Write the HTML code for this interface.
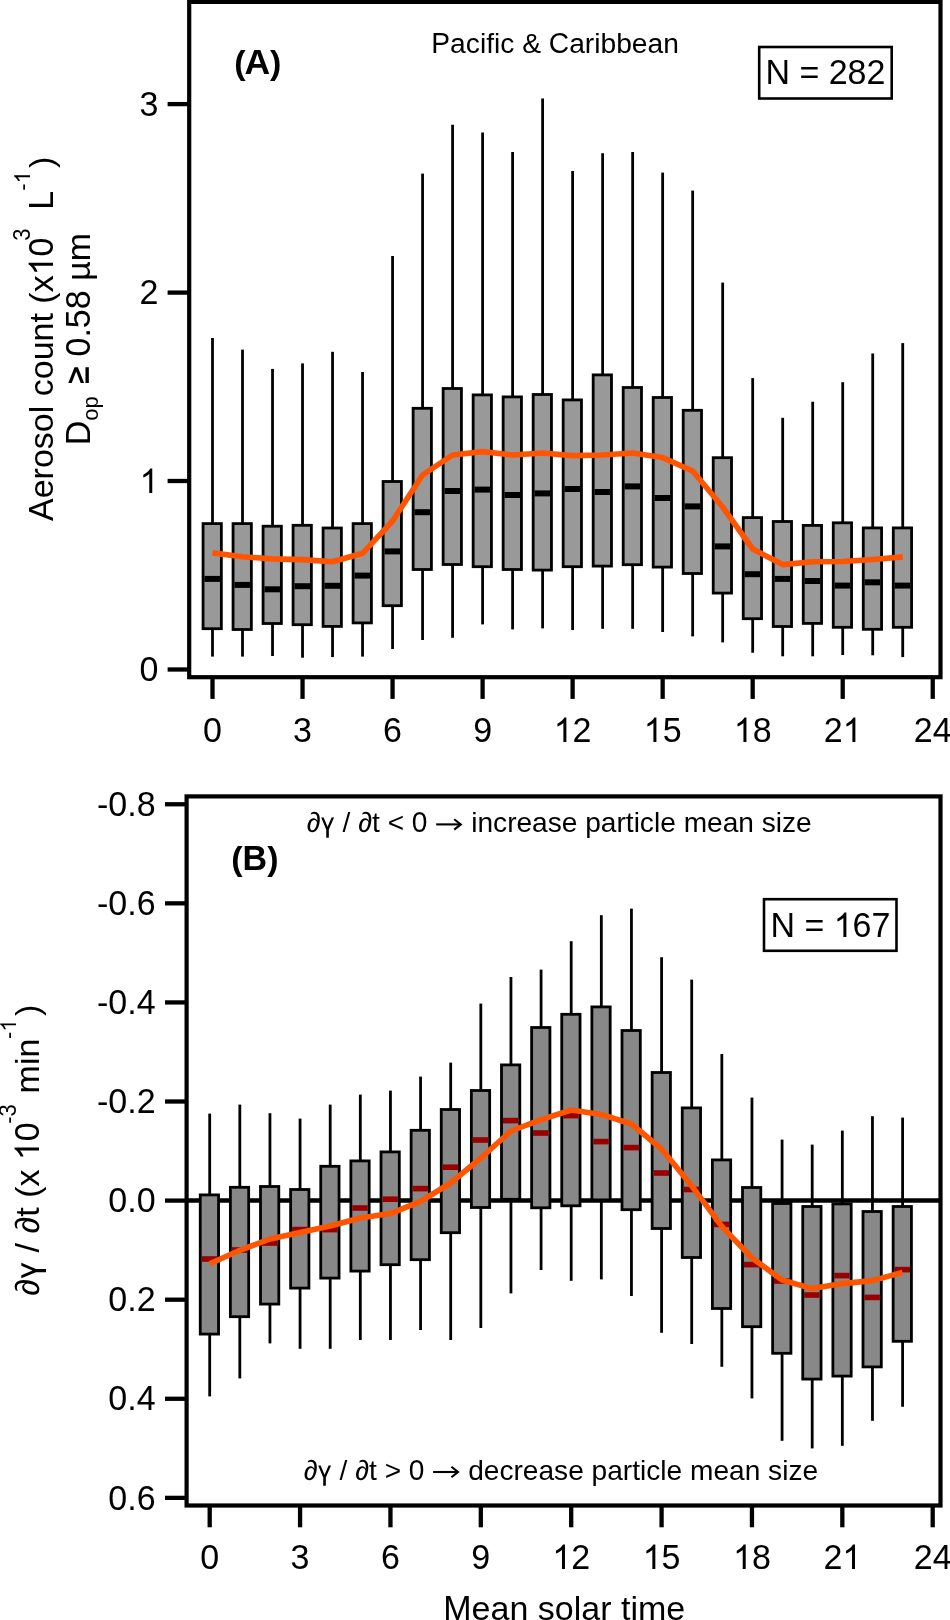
<!DOCTYPE html>
<html><head><meta charset="utf-8"><title>Aerosol diurnal box plots</title>
<style>html,body{margin:0;padding:0;background:#fff;}svg{display:block;}</style>
</head><body>
<svg style="will-change:transform" width="950" height="1620" viewBox="0 0 950 1620" font-family="'Liberation Sans', sans-serif">
<rect width="950" height="1620" fill="#fff"/>
<line x1="167.6" y1="669.5" x2="189.2" y2="669.5" stroke="#000" stroke-width="4.3"/>
<text transform="translate(139.59 681.2) scale(1 1.05)" font-size="34">0</text>
<line x1="167.6" y1="481" x2="189.2" y2="481" stroke="#000" stroke-width="4.3"/>
<path d="M763 0L583 0L583 1147Q518 1085 413 1023Q308 961 223 930L223 1104Q374 1175 487 1276Q600 1377 647 1472L763 1472Z" transform="translate(139.59 493) scale(0.01660 -0.01660)"/>
<line x1="167.6" y1="292.6" x2="189.2" y2="292.6" stroke="#000" stroke-width="4.3"/>
<text transform="translate(139.59 304.3) scale(1 1.05)" font-size="34">2</text>
<line x1="167.6" y1="104.1" x2="189.2" y2="104.1" stroke="#000" stroke-width="4.3"/>
<text transform="translate(139.59 115.8) scale(1 1.05)" font-size="34">3</text>
<line x1="212.5" y1="677.2" x2="212.5" y2="698.9" stroke="#000" stroke-width="4.3"/>
<text transform="translate(203.05 741.5) scale(1 1.05)" font-size="34">0</text>
<line x1="302.53" y1="677.2" x2="302.53" y2="698.9" stroke="#000" stroke-width="4.3"/>
<text transform="translate(293.08 741.5) scale(1 1.05)" font-size="34">3</text>
<line x1="392.56" y1="677.2" x2="392.56" y2="698.9" stroke="#000" stroke-width="4.3"/>
<text transform="translate(383.11 741.5) scale(1 1.05)" font-size="34">6</text>
<line x1="482.59" y1="677.2" x2="482.59" y2="698.9" stroke="#000" stroke-width="4.3"/>
<text transform="translate(473.14 741.5) scale(1 1.05)" font-size="34">9</text>
<line x1="572.62" y1="677.2" x2="572.62" y2="698.9" stroke="#000" stroke-width="4.3"/>
<path d="M763 0L583 0L583 1147Q518 1085 413 1023Q308 961 223 930L223 1104Q374 1175 487 1276Q600 1377 647 1472L763 1472Z" transform="translate(553.71 742) scale(0.01660 -0.01660)"/><text transform="translate(572.62 741.5) scale(1 1.05)" font-size="34">2</text>
<line x1="662.65" y1="677.2" x2="662.65" y2="698.9" stroke="#000" stroke-width="4.3"/>
<path d="M763 0L583 0L583 1147Q518 1085 413 1023Q308 961 223 930L223 1104Q374 1175 487 1276Q600 1377 647 1472L763 1472Z" transform="translate(643.74 742) scale(0.01660 -0.01660)"/><text transform="translate(662.65 741.5) scale(1 1.05)" font-size="34">5</text>
<line x1="752.68" y1="677.2" x2="752.68" y2="698.9" stroke="#000" stroke-width="4.3"/>
<path d="M763 0L583 0L583 1147Q518 1085 413 1023Q308 961 223 930L223 1104Q374 1175 487 1276Q600 1377 647 1472L763 1472Z" transform="translate(733.77 742) scale(0.01660 -0.01660)"/><text transform="translate(752.68 741.5) scale(1 1.05)" font-size="34">8</text>
<line x1="842.71" y1="677.2" x2="842.71" y2="698.9" stroke="#000" stroke-width="4.3"/>
<text transform="translate(823.8 741.5) scale(1 1.05)" font-size="34">2</text><path d="M763 0L583 0L583 1147Q518 1085 413 1023Q308 961 223 930L223 1104Q374 1175 487 1276Q600 1377 647 1472L763 1472Z" transform="translate(842.71 742) scale(0.01660 -0.01660)"/>
<line x1="932.74" y1="677.2" x2="932.74" y2="698.9" stroke="#000" stroke-width="4.3"/>
<text transform="translate(913.83 741.5) scale(1 1.05)" font-size="34">24</text>
<line x1="212.5" y1="338" x2="212.5" y2="523.2" stroke="#000" stroke-width="2.8"/>
<line x1="212.5" y1="629.1" x2="212.5" y2="656.6" stroke="#000" stroke-width="2.8"/>
<rect x="203.05" y="523.6" width="18.3" height="105.1" fill="#999999" stroke="#000" stroke-width="2.8"/>
<line x1="204.45" y1="578.9" x2="219.95" y2="578.9" stroke="#000" stroke-width="6.0"/>
<line x1="242.51" y1="349.6" x2="242.51" y2="523.2" stroke="#000" stroke-width="2.8"/>
<line x1="242.51" y1="629.9" x2="242.51" y2="656.6" stroke="#000" stroke-width="2.8"/>
<rect x="233.06" y="523.6" width="18.3" height="105.9" fill="#999999" stroke="#000" stroke-width="2.8"/>
<line x1="234.46" y1="584.9" x2="249.96" y2="584.9" stroke="#000" stroke-width="6.0"/>
<line x1="272.52" y1="368.9" x2="272.52" y2="525.8" stroke="#000" stroke-width="2.8"/>
<line x1="272.52" y1="623.9" x2="272.52" y2="656" stroke="#000" stroke-width="2.8"/>
<rect x="263.07" y="526.2" width="18.3" height="97.3" fill="#999999" stroke="#000" stroke-width="2.8"/>
<line x1="264.47" y1="589.3" x2="279.97" y2="589.3" stroke="#000" stroke-width="6.0"/>
<line x1="302.53" y1="363.4" x2="302.53" y2="524.9" stroke="#000" stroke-width="2.8"/>
<line x1="302.53" y1="625.1" x2="302.53" y2="657.7" stroke="#000" stroke-width="2.8"/>
<rect x="293.08" y="525.3" width="18.3" height="99.4" fill="#999999" stroke="#000" stroke-width="2.8"/>
<line x1="294.48" y1="586.2" x2="309.98" y2="586.2" stroke="#000" stroke-width="6.0"/>
<line x1="332.54" y1="351.8" x2="332.54" y2="527.6" stroke="#000" stroke-width="2.8"/>
<line x1="332.54" y1="626.8" x2="332.54" y2="657.1" stroke="#000" stroke-width="2.8"/>
<rect x="323.09" y="528" width="18.3" height="98.4" fill="#999999" stroke="#000" stroke-width="2.8"/>
<line x1="324.49" y1="585.8" x2="339.99" y2="585.8" stroke="#000" stroke-width="6.0"/>
<line x1="362.55" y1="372" x2="362.55" y2="523.2" stroke="#000" stroke-width="2.8"/>
<line x1="362.55" y1="623.3" x2="362.55" y2="656.6" stroke="#000" stroke-width="2.8"/>
<rect x="353.1" y="523.6" width="18.3" height="99.3" fill="#999999" stroke="#000" stroke-width="2.8"/>
<line x1="354.5" y1="575.6" x2="370" y2="575.6" stroke="#000" stroke-width="6.0"/>
<line x1="392.56" y1="256" x2="392.56" y2="481.1" stroke="#000" stroke-width="2.8"/>
<line x1="392.56" y1="606.1" x2="392.56" y2="649" stroke="#000" stroke-width="2.8"/>
<rect x="383.11" y="481.5" width="18.3" height="124.2" fill="#999999" stroke="#000" stroke-width="2.8"/>
<line x1="384.51" y1="551.4" x2="400.01" y2="551.4" stroke="#000" stroke-width="6.0"/>
<line x1="422.57" y1="173.6" x2="422.57" y2="407.9" stroke="#000" stroke-width="2.8"/>
<line x1="422.57" y1="569.9" x2="422.57" y2="640" stroke="#000" stroke-width="2.8"/>
<rect x="413.12" y="408.3" width="18.3" height="161.2" fill="#999999" stroke="#000" stroke-width="2.8"/>
<line x1="414.52" y1="512.2" x2="430.02" y2="512.2" stroke="#000" stroke-width="6.0"/>
<line x1="452.58" y1="124.8" x2="452.58" y2="388.1" stroke="#000" stroke-width="2.8"/>
<line x1="452.58" y1="564.9" x2="452.58" y2="637.8" stroke="#000" stroke-width="2.8"/>
<rect x="443.13" y="388.5" width="18.3" height="176" fill="#999999" stroke="#000" stroke-width="2.8"/>
<line x1="444.53" y1="491" x2="460.03" y2="491" stroke="#000" stroke-width="6.0"/>
<line x1="482.59" y1="132.6" x2="482.59" y2="394.5" stroke="#000" stroke-width="2.8"/>
<line x1="482.59" y1="567.1" x2="482.59" y2="624.4" stroke="#000" stroke-width="2.8"/>
<rect x="473.14" y="394.9" width="18.3" height="171.8" fill="#999999" stroke="#000" stroke-width="2.8"/>
<line x1="474.54" y1="489.6" x2="490.04" y2="489.6" stroke="#000" stroke-width="6.0"/>
<line x1="512.6" y1="152" x2="512.6" y2="396.5" stroke="#000" stroke-width="2.8"/>
<line x1="512.6" y1="569.9" x2="512.6" y2="629.4" stroke="#000" stroke-width="2.8"/>
<rect x="503.15" y="396.9" width="18.3" height="172.6" fill="#999999" stroke="#000" stroke-width="2.8"/>
<line x1="504.55" y1="495" x2="520.05" y2="495" stroke="#000" stroke-width="6.0"/>
<line x1="542.61" y1="98.4" x2="542.61" y2="394.1" stroke="#000" stroke-width="2.8"/>
<line x1="542.61" y1="570.5" x2="542.61" y2="628.4" stroke="#000" stroke-width="2.8"/>
<rect x="533.16" y="394.5" width="18.3" height="175.6" fill="#999999" stroke="#000" stroke-width="2.8"/>
<line x1="534.56" y1="493.4" x2="550.06" y2="493.4" stroke="#000" stroke-width="6.0"/>
<line x1="572.62" y1="171" x2="572.62" y2="399.5" stroke="#000" stroke-width="2.8"/>
<line x1="572.62" y1="567.1" x2="572.62" y2="630" stroke="#000" stroke-width="2.8"/>
<rect x="563.17" y="399.9" width="18.3" height="166.8" fill="#999999" stroke="#000" stroke-width="2.8"/>
<line x1="564.57" y1="489" x2="580.07" y2="489" stroke="#000" stroke-width="6.0"/>
<line x1="602.63" y1="153.2" x2="602.63" y2="374.5" stroke="#000" stroke-width="2.8"/>
<line x1="602.63" y1="566.5" x2="602.63" y2="628.8" stroke="#000" stroke-width="2.8"/>
<rect x="593.18" y="374.9" width="18.3" height="191.2" fill="#999999" stroke="#000" stroke-width="2.8"/>
<line x1="594.58" y1="492" x2="610.08" y2="492" stroke="#000" stroke-width="6.0"/>
<line x1="632.64" y1="152" x2="632.64" y2="387.1" stroke="#000" stroke-width="2.8"/>
<line x1="632.64" y1="565.1" x2="632.64" y2="628.8" stroke="#000" stroke-width="2.8"/>
<rect x="623.19" y="387.5" width="18.3" height="177.2" fill="#999999" stroke="#000" stroke-width="2.8"/>
<line x1="624.59" y1="486.4" x2="640.09" y2="486.4" stroke="#000" stroke-width="6.0"/>
<line x1="662.65" y1="172.6" x2="662.65" y2="397.1" stroke="#000" stroke-width="2.8"/>
<line x1="662.65" y1="567.5" x2="662.65" y2="632" stroke="#000" stroke-width="2.8"/>
<rect x="653.2" y="397.5" width="18.3" height="169.6" fill="#999999" stroke="#000" stroke-width="2.8"/>
<line x1="654.6" y1="498" x2="670.1" y2="498" stroke="#000" stroke-width="6.0"/>
<line x1="692.66" y1="190.6" x2="692.66" y2="409.9" stroke="#000" stroke-width="2.8"/>
<line x1="692.66" y1="573.9" x2="692.66" y2="636.4" stroke="#000" stroke-width="2.8"/>
<rect x="683.21" y="410.3" width="18.3" height="163.2" fill="#999999" stroke="#000" stroke-width="2.8"/>
<line x1="684.61" y1="506.4" x2="700.11" y2="506.4" stroke="#000" stroke-width="6.0"/>
<line x1="722.67" y1="282.6" x2="722.67" y2="457.3" stroke="#000" stroke-width="2.8"/>
<line x1="722.67" y1="593.5" x2="722.67" y2="642.4" stroke="#000" stroke-width="2.8"/>
<rect x="713.22" y="457.7" width="18.3" height="135.4" fill="#999999" stroke="#000" stroke-width="2.8"/>
<line x1="714.62" y1="546.4" x2="730.12" y2="546.4" stroke="#000" stroke-width="6.0"/>
<line x1="752.68" y1="378.1" x2="752.68" y2="517.2" stroke="#000" stroke-width="2.8"/>
<line x1="752.68" y1="619.1" x2="752.68" y2="652.7" stroke="#000" stroke-width="2.8"/>
<rect x="743.23" y="517.6" width="18.3" height="101.1" fill="#999999" stroke="#000" stroke-width="2.8"/>
<line x1="744.63" y1="574.2" x2="760.13" y2="574.2" stroke="#000" stroke-width="6.0"/>
<line x1="782.69" y1="417.8" x2="782.69" y2="521.1" stroke="#000" stroke-width="2.8"/>
<line x1="782.69" y1="626.9" x2="782.69" y2="656.3" stroke="#000" stroke-width="2.8"/>
<rect x="773.24" y="521.5" width="18.3" height="105" fill="#999999" stroke="#000" stroke-width="2.8"/>
<line x1="774.64" y1="578.9" x2="790.14" y2="578.9" stroke="#000" stroke-width="6.0"/>
<line x1="812.7" y1="401.7" x2="812.7" y2="525" stroke="#000" stroke-width="2.8"/>
<line x1="812.7" y1="623.8" x2="812.7" y2="656.3" stroke="#000" stroke-width="2.8"/>
<rect x="803.25" y="525.4" width="18.3" height="98" fill="#999999" stroke="#000" stroke-width="2.8"/>
<line x1="804.65" y1="581" x2="820.15" y2="581" stroke="#000" stroke-width="6.0"/>
<line x1="842.71" y1="382.2" x2="842.71" y2="522.4" stroke="#000" stroke-width="2.8"/>
<line x1="842.71" y1="627.7" x2="842.71" y2="655" stroke="#000" stroke-width="2.8"/>
<rect x="833.26" y="522.8" width="18.3" height="104.5" fill="#999999" stroke="#000" stroke-width="2.8"/>
<line x1="834.66" y1="585.6" x2="850.16" y2="585.6" stroke="#000" stroke-width="6.0"/>
<line x1="872.72" y1="353.5" x2="872.72" y2="527.5" stroke="#000" stroke-width="2.8"/>
<line x1="872.72" y1="629.7" x2="872.72" y2="655.3" stroke="#000" stroke-width="2.8"/>
<rect x="863.27" y="527.9" width="18.3" height="101.4" fill="#999999" stroke="#000" stroke-width="2.8"/>
<line x1="864.67" y1="582.3" x2="880.17" y2="582.3" stroke="#000" stroke-width="6.0"/>
<line x1="902.73" y1="343.1" x2="902.73" y2="527.5" stroke="#000" stroke-width="2.8"/>
<line x1="902.73" y1="627.7" x2="902.73" y2="657.1" stroke="#000" stroke-width="2.8"/>
<rect x="893.28" y="527.9" width="18.3" height="99.4" fill="#999999" stroke="#000" stroke-width="2.8"/>
<line x1="894.68" y1="585.6" x2="910.18" y2="585.6" stroke="#000" stroke-width="6.0"/>
<polyline points="212.5,552.9 242.51,556.7 272.52,558.9 302.53,559.6 332.54,561.8 362.55,553.3 392.56,521 422.57,475 452.58,455 482.59,451.6 512.6,455 542.61,453 572.62,455.6 602.63,455 632.64,453 662.65,457.6 692.66,471 722.67,507 752.68,549 782.69,564.6 812.7,561.8 842.71,561.5 872.72,559.5 902.73,556.9" fill="none" stroke="#ff5500" stroke-width="5.6" stroke-linejoin="round"/>
<rect x="189.2" y="1.9" width="751.3" height="675.3" fill="none" stroke="#000" stroke-width="4.2"/>
<g font-weight="bold"><text x="234.2" y="73.9" font-size="34">(</text><text x="244.5" y="73.9" font-size="35.5">A</text><text x="270.07" y="73.9" font-size="34">)</text></g>
<text transform="translate(431.3 52.9) scale(1 1.04)" font-size="28.2">P</text><text x="450.11" y="52.9" font-size="28.2">acific</text><text x="522.19" y="52.9" font-size="28.2">&amp;</text><text transform="translate(548.84 52.9) scale(1 1.04)" font-size="28.2">C</text><text x="569.2" y="52.9" font-size="28.2">aribbean</text>
<rect x="759.2" y="47" width="132.5" height="51.5" fill="none" stroke="#000" stroke-width="2.6"/>
<text transform="translate(765.4 83.7) scale(1 1.04)" font-size="34">N</text><text x="799.4" y="83.7" font-size="34">=</text><text transform="translate(828.7 83.7) scale(1 1.05)" font-size="34">282</text>
<g transform="rotate(-90)">
<text transform="translate(-521 52.6) scale(1 1.04)" font-size="34">A</text><text x="-498.32" y="52.6" font-size="34">erosol</text><text x="-396.27" y="52.6" font-size="34">count</text><text x="-303.65" y="52.6" font-size="34">(x</text><path d="M763 0L583 0L583 1147Q518 1085 413 1023Q308 961 223 930L223 1104Q374 1175 487 1276Q600 1377 647 1472L763 1472Z" transform="translate(-275.33 53) scale(0.01660 -0.01660)"/><text transform="translate(-256.42 52.6) scale(1 1.05)" font-size="34">0</text>
<text transform="translate(-240.8 30.2) scale(1 1.05)" font-size="22">3</text>
<text transform="translate(-209.7 52.6) scale(1 1.04)" font-size="34">L</text>
<text x="-190.8" y="30.2" font-size="22">-</text><path d="M763 0L583 0L583 1147Q518 1085 413 1023Q308 961 223 930L223 1104Q374 1175 487 1276Q600 1377 647 1472L763 1472Z" transform="translate(-183.47 30) scale(0.01074 -0.01074)"/>
<text x="-167.9" y="52.6" font-size="34">)</text>
<text transform="translate(-445.3 89.8) scale(1 1.04)" font-size="34">D</text>
<text x="-420.7" y="97.9" font-size="22">op</text>
<path d="M102 1307L1042 934L1042 729L102 355L102 560L783 831L102 1102ZM90 70L1042 70L1042 273L90 273Z" transform="translate(-384.6 90) scale(0.01660 -0.01660)"/><text transform="translate(-356.49 89.8) scale(1 1.05)" font-size="34">0</text><text x="-337.58" y="89.8" font-size="34">.</text><text transform="translate(-328.14 89.8) scale(1 1.05)" font-size="34">58</text><text x="-280.87" y="89.8" font-size="34">µm</text>
</g>
<line x1="186.6" y1="1200.45" x2="940.5" y2="1200.45" stroke="#000" stroke-width="4.4"/>
<line x1="165" y1="804.26" x2="186.6" y2="804.26" stroke="#000" stroke-width="4.3"/>
<text x="97.01" y="815.96" font-size="34">-</text><text transform="translate(108.34 815.96) scale(1 1.05)" font-size="34">0</text><text x="127.24" y="815.96" font-size="34">.</text><text transform="translate(136.69 815.96) scale(1 1.05)" font-size="34">8</text>
<line x1="165" y1="903.34" x2="186.6" y2="903.34" stroke="#000" stroke-width="4.3"/>
<text x="97.01" y="915.04" font-size="34">-</text><text transform="translate(108.34 915.04) scale(1 1.05)" font-size="34">0</text><text x="127.24" y="915.04" font-size="34">.</text><text transform="translate(136.69 915.04) scale(1 1.05)" font-size="34">6</text>
<line x1="165" y1="1002.43" x2="186.6" y2="1002.43" stroke="#000" stroke-width="4.3"/>
<text x="97.01" y="1014.13" font-size="34">-</text><text transform="translate(108.34 1014.13) scale(1 1.05)" font-size="34">0</text><text x="127.24" y="1014.13" font-size="34">.</text><text transform="translate(136.69 1014.13) scale(1 1.05)" font-size="34">4</text>
<line x1="165" y1="1101.51" x2="186.6" y2="1101.51" stroke="#000" stroke-width="4.3"/>
<text x="97.01" y="1113.21" font-size="34">-</text><text transform="translate(108.34 1113.21) scale(1 1.05)" font-size="34">0</text><text x="127.24" y="1113.21" font-size="34">.</text><text transform="translate(136.69 1113.21) scale(1 1.05)" font-size="34">2</text>
<line x1="165" y1="1200.6" x2="186.6" y2="1200.6" stroke="#000" stroke-width="4.3"/>
<text transform="translate(108.34 1212.3) scale(1 1.05)" font-size="34">0</text><text x="127.24" y="1212.3" font-size="34">.</text><text transform="translate(136.69 1212.3) scale(1 1.05)" font-size="34">0</text>
<line x1="165" y1="1299.69" x2="186.6" y2="1299.69" stroke="#000" stroke-width="4.3"/>
<text transform="translate(108.34 1311.39) scale(1 1.05)" font-size="34">0</text><text x="127.24" y="1311.39" font-size="34">.</text><text transform="translate(136.69 1311.39) scale(1 1.05)" font-size="34">2</text>
<line x1="165" y1="1398.77" x2="186.6" y2="1398.77" stroke="#000" stroke-width="4.3"/>
<text transform="translate(108.34 1410.47) scale(1 1.05)" font-size="34">0</text><text x="127.24" y="1410.47" font-size="34">.</text><text transform="translate(136.69 1410.47) scale(1 1.05)" font-size="34">4</text>
<line x1="165" y1="1497.86" x2="186.6" y2="1497.86" stroke="#000" stroke-width="4.3"/>
<text transform="translate(108.34 1509.56) scale(1 1.05)" font-size="34">0</text><text x="127.24" y="1509.56" font-size="34">.</text><text transform="translate(136.69 1509.56) scale(1 1.05)" font-size="34">6</text>
<line x1="209.7" y1="1505.5" x2="209.7" y2="1527.3" stroke="#000" stroke-width="4.3"/>
<text transform="translate(200.25 1569.4) scale(1 1.05)" font-size="34">0</text>
<line x1="300.07" y1="1505.5" x2="300.07" y2="1527.3" stroke="#000" stroke-width="4.3"/>
<text transform="translate(290.62 1569.4) scale(1 1.05)" font-size="34">3</text>
<line x1="390.45" y1="1505.5" x2="390.45" y2="1527.3" stroke="#000" stroke-width="4.3"/>
<text transform="translate(381 1569.4) scale(1 1.05)" font-size="34">6</text>
<line x1="480.82" y1="1505.5" x2="480.82" y2="1527.3" stroke="#000" stroke-width="4.3"/>
<text transform="translate(471.37 1569.4) scale(1 1.05)" font-size="34">9</text>
<line x1="571.2" y1="1505.5" x2="571.2" y2="1527.3" stroke="#000" stroke-width="4.3"/>
<path d="M763 0L583 0L583 1147Q518 1085 413 1023Q308 961 223 930L223 1104Q374 1175 487 1276Q600 1377 647 1472L763 1472Z" transform="translate(552.29 1569) scale(0.01660 -0.01660)"/><text transform="translate(571.2 1569.4) scale(1 1.05)" font-size="34">2</text>
<line x1="661.58" y1="1505.5" x2="661.58" y2="1527.3" stroke="#000" stroke-width="4.3"/>
<path d="M763 0L583 0L583 1147Q518 1085 413 1023Q308 961 223 930L223 1104Q374 1175 487 1276Q600 1377 647 1472L763 1472Z" transform="translate(642.67 1569) scale(0.01660 -0.01660)"/><text transform="translate(661.58 1569.4) scale(1 1.05)" font-size="34">5</text>
<line x1="751.95" y1="1505.5" x2="751.95" y2="1527.3" stroke="#000" stroke-width="4.3"/>
<path d="M763 0L583 0L583 1147Q518 1085 413 1023Q308 961 223 930L223 1104Q374 1175 487 1276Q600 1377 647 1472L763 1472Z" transform="translate(733.04 1569) scale(0.01660 -0.01660)"/><text transform="translate(751.95 1569.4) scale(1 1.05)" font-size="34">8</text>
<line x1="842.33" y1="1505.5" x2="842.33" y2="1527.3" stroke="#000" stroke-width="4.3"/>
<text transform="translate(823.42 1569.4) scale(1 1.05)" font-size="34">2</text><path d="M763 0L583 0L583 1147Q518 1085 413 1023Q308 961 223 930L223 1104Q374 1175 487 1276Q600 1377 647 1472L763 1472Z" transform="translate(842.33 1569) scale(0.01660 -0.01660)"/>
<line x1="932.7" y1="1505.5" x2="932.7" y2="1527.3" stroke="#000" stroke-width="4.3"/>
<text transform="translate(913.79 1569.4) scale(1 1.05)" font-size="34">24</text>
<line x1="209.7" y1="1113.6" x2="209.7" y2="1194.5" stroke="#000" stroke-width="2.8"/>
<line x1="209.7" y1="1334.5" x2="209.7" y2="1396.4" stroke="#000" stroke-width="2.8"/>
<rect x="200.25" y="1194.9" width="18.3" height="139.2" fill="#888888" stroke="#000" stroke-width="2.8"/>
<line x1="201.65" y1="1259" x2="217.15" y2="1259" stroke="#990000" stroke-width="5.6"/>
<line x1="239.82" y1="1104.6" x2="239.82" y2="1186.9" stroke="#000" stroke-width="2.8"/>
<line x1="239.82" y1="1317.1" x2="239.82" y2="1378.4" stroke="#000" stroke-width="2.8"/>
<rect x="230.37" y="1187.3" width="18.3" height="129.4" fill="#888888" stroke="#000" stroke-width="2.8"/>
<line x1="231.77" y1="1250" x2="247.27" y2="1250" stroke="#990000" stroke-width="5.6"/>
<line x1="269.95" y1="1113.2" x2="269.95" y2="1186.1" stroke="#000" stroke-width="2.8"/>
<line x1="269.95" y1="1304.5" x2="269.95" y2="1343.4" stroke="#000" stroke-width="2.8"/>
<rect x="260.5" y="1186.5" width="18.3" height="117.6" fill="#888888" stroke="#000" stroke-width="2.8"/>
<line x1="261.9" y1="1243" x2="277.4" y2="1243" stroke="#990000" stroke-width="5.6"/>
<line x1="300.07" y1="1118.6" x2="300.07" y2="1189.1" stroke="#000" stroke-width="2.8"/>
<line x1="300.07" y1="1288.5" x2="300.07" y2="1348.8" stroke="#000" stroke-width="2.8"/>
<rect x="290.62" y="1189.5" width="18.3" height="98.6" fill="#888888" stroke="#000" stroke-width="2.8"/>
<line x1="292.02" y1="1229.6" x2="307.52" y2="1229.6" stroke="#990000" stroke-width="5.6"/>
<line x1="330.2" y1="1104.6" x2="330.2" y2="1165.9" stroke="#000" stroke-width="2.8"/>
<line x1="330.2" y1="1278.5" x2="330.2" y2="1348.8" stroke="#000" stroke-width="2.8"/>
<rect x="320.75" y="1166.3" width="18.3" height="111.8" fill="#888888" stroke="#000" stroke-width="2.8"/>
<line x1="322.15" y1="1229.6" x2="337.65" y2="1229.6" stroke="#990000" stroke-width="5.6"/>
<line x1="360.32" y1="1094.6" x2="360.32" y2="1160.5" stroke="#000" stroke-width="2.8"/>
<line x1="360.32" y1="1271.5" x2="360.32" y2="1340" stroke="#000" stroke-width="2.8"/>
<rect x="350.87" y="1160.9" width="18.3" height="110.2" fill="#888888" stroke="#000" stroke-width="2.8"/>
<line x1="352.27" y1="1208" x2="367.77" y2="1208" stroke="#990000" stroke-width="5.6"/>
<line x1="390.45" y1="1090.6" x2="390.45" y2="1151.5" stroke="#000" stroke-width="2.8"/>
<line x1="390.45" y1="1265.1" x2="390.45" y2="1340" stroke="#000" stroke-width="2.8"/>
<rect x="381" y="1151.9" width="18.3" height="112.8" fill="#888888" stroke="#000" stroke-width="2.8"/>
<line x1="382.4" y1="1199.2" x2="397.9" y2="1199.2" stroke="#990000" stroke-width="5.6"/>
<line x1="420.57" y1="1076.6" x2="420.57" y2="1129.9" stroke="#000" stroke-width="2.8"/>
<line x1="420.57" y1="1260.1" x2="420.57" y2="1330" stroke="#000" stroke-width="2.8"/>
<rect x="411.12" y="1130.3" width="18.3" height="129.4" fill="#888888" stroke="#000" stroke-width="2.8"/>
<line x1="412.52" y1="1188.6" x2="428.02" y2="1188.6" stroke="#990000" stroke-width="5.6"/>
<line x1="450.7" y1="1062.6" x2="450.7" y2="1109.1" stroke="#000" stroke-width="2.8"/>
<line x1="450.7" y1="1233.1" x2="450.7" y2="1340" stroke="#000" stroke-width="2.8"/>
<rect x="441.25" y="1109.5" width="18.3" height="123.2" fill="#888888" stroke="#000" stroke-width="2.8"/>
<line x1="442.65" y1="1167.2" x2="458.15" y2="1167.2" stroke="#990000" stroke-width="5.6"/>
<line x1="480.82" y1="1003.6" x2="480.82" y2="1090.1" stroke="#000" stroke-width="2.8"/>
<line x1="480.82" y1="1207.9" x2="480.82" y2="1328" stroke="#000" stroke-width="2.8"/>
<rect x="471.37" y="1090.5" width="18.3" height="117" fill="#888888" stroke="#000" stroke-width="2.8"/>
<line x1="472.77" y1="1140" x2="488.27" y2="1140" stroke="#990000" stroke-width="5.6"/>
<line x1="510.95" y1="977" x2="510.95" y2="1064.5" stroke="#000" stroke-width="2.8"/>
<line x1="510.95" y1="1199.7" x2="510.95" y2="1293.4" stroke="#000" stroke-width="2.8"/>
<rect x="501.5" y="1064.9" width="18.3" height="134.4" fill="#888888" stroke="#000" stroke-width="2.8"/>
<line x1="502.9" y1="1120.6" x2="518.4" y2="1120.6" stroke="#990000" stroke-width="5.6"/>
<line x1="541.08" y1="969.6" x2="541.08" y2="1027.1" stroke="#000" stroke-width="2.8"/>
<line x1="541.08" y1="1208.2" x2="541.08" y2="1270" stroke="#000" stroke-width="2.8"/>
<rect x="531.63" y="1027.5" width="18.3" height="180.3" fill="#888888" stroke="#000" stroke-width="2.8"/>
<line x1="533.03" y1="1133" x2="548.53" y2="1133" stroke="#990000" stroke-width="5.6"/>
<line x1="571.2" y1="941.2" x2="571.2" y2="1013.9" stroke="#000" stroke-width="2.8"/>
<line x1="571.2" y1="1206.2" x2="571.2" y2="1280.8" stroke="#000" stroke-width="2.8"/>
<rect x="561.75" y="1014.3" width="18.3" height="191.5" fill="#888888" stroke="#000" stroke-width="2.8"/>
<line x1="563.15" y1="1115.6" x2="578.65" y2="1115.6" stroke="#990000" stroke-width="5.6"/>
<line x1="601.33" y1="915.2" x2="601.33" y2="1006.5" stroke="#000" stroke-width="2.8"/>
<line x1="601.33" y1="1200.3" x2="601.33" y2="1279.4" stroke="#000" stroke-width="2.8"/>
<rect x="591.88" y="1006.9" width="18.3" height="193" fill="#888888" stroke="#000" stroke-width="2.8"/>
<line x1="593.28" y1="1141.6" x2="608.78" y2="1141.6" stroke="#990000" stroke-width="5.6"/>
<line x1="631.45" y1="908.6" x2="631.45" y2="1030.1" stroke="#000" stroke-width="2.8"/>
<line x1="631.45" y1="1210.1" x2="631.45" y2="1296" stroke="#000" stroke-width="2.8"/>
<rect x="622" y="1030.5" width="18.3" height="179.2" fill="#888888" stroke="#000" stroke-width="2.8"/>
<line x1="623.4" y1="1147.6" x2="638.9" y2="1147.6" stroke="#990000" stroke-width="5.6"/>
<line x1="661.58" y1="957.2" x2="661.58" y2="1072.1" stroke="#000" stroke-width="2.8"/>
<line x1="661.58" y1="1228.9" x2="661.58" y2="1332.8" stroke="#000" stroke-width="2.8"/>
<rect x="652.13" y="1072.5" width="18.3" height="156" fill="#888888" stroke="#000" stroke-width="2.8"/>
<line x1="653.53" y1="1173" x2="669.03" y2="1173" stroke="#990000" stroke-width="5.6"/>
<line x1="691.7" y1="979.6" x2="691.7" y2="1107.5" stroke="#000" stroke-width="2.8"/>
<line x1="691.7" y1="1257.9" x2="691.7" y2="1344" stroke="#000" stroke-width="2.8"/>
<rect x="682.25" y="1107.9" width="18.3" height="149.6" fill="#888888" stroke="#000" stroke-width="2.8"/>
<line x1="683.65" y1="1189.5" x2="699.15" y2="1189.5" stroke="#990000" stroke-width="5.6"/>
<line x1="721.83" y1="1054" x2="721.83" y2="1159.5" stroke="#000" stroke-width="2.8"/>
<line x1="721.83" y1="1308.9" x2="721.83" y2="1366.8" stroke="#000" stroke-width="2.8"/>
<rect x="712.38" y="1159.9" width="18.3" height="148.6" fill="#888888" stroke="#000" stroke-width="2.8"/>
<line x1="713.78" y1="1224.4" x2="729.28" y2="1224.4" stroke="#990000" stroke-width="5.6"/>
<line x1="751.95" y1="1097.6" x2="751.95" y2="1187.1" stroke="#000" stroke-width="2.8"/>
<line x1="751.95" y1="1327.1" x2="751.95" y2="1398.4" stroke="#000" stroke-width="2.8"/>
<rect x="742.5" y="1187.5" width="18.3" height="139.2" fill="#888888" stroke="#000" stroke-width="2.8"/>
<line x1="743.9" y1="1264.6" x2="759.4" y2="1264.6" stroke="#990000" stroke-width="5.6"/>
<line x1="782.08" y1="1139.6" x2="782.08" y2="1203.1" stroke="#000" stroke-width="2.8"/>
<line x1="782.08" y1="1353.7" x2="782.08" y2="1440.8" stroke="#000" stroke-width="2.8"/>
<rect x="772.63" y="1203.5" width="18.3" height="149.8" fill="#888888" stroke="#000" stroke-width="2.8"/>
<line x1="774.03" y1="1281" x2="789.53" y2="1281" stroke="#990000" stroke-width="5.6"/>
<line x1="812.2" y1="1144.6" x2="812.2" y2="1206.1" stroke="#000" stroke-width="2.8"/>
<line x1="812.2" y1="1379.5" x2="812.2" y2="1448.4" stroke="#000" stroke-width="2.8"/>
<rect x="802.75" y="1206.5" width="18.3" height="172.6" fill="#888888" stroke="#000" stroke-width="2.8"/>
<line x1="804.15" y1="1295" x2="819.65" y2="1295" stroke="#990000" stroke-width="5.6"/>
<line x1="842.33" y1="1130.6" x2="842.33" y2="1203.5" stroke="#000" stroke-width="2.8"/>
<line x1="842.33" y1="1376.5" x2="842.33" y2="1445.8" stroke="#000" stroke-width="2.8"/>
<rect x="832.88" y="1203.9" width="18.3" height="172.2" fill="#888888" stroke="#000" stroke-width="2.8"/>
<line x1="834.28" y1="1275.6" x2="849.78" y2="1275.6" stroke="#990000" stroke-width="5.6"/>
<line x1="872.45" y1="1116.2" x2="872.45" y2="1211.1" stroke="#000" stroke-width="2.8"/>
<line x1="872.45" y1="1367.3" x2="872.45" y2="1420.8" stroke="#000" stroke-width="2.8"/>
<rect x="863" y="1211.5" width="18.3" height="155.4" fill="#888888" stroke="#000" stroke-width="2.8"/>
<line x1="864.4" y1="1297.4" x2="879.9" y2="1297.4" stroke="#990000" stroke-width="5.6"/>
<line x1="902.58" y1="1117.6" x2="902.58" y2="1206.1" stroke="#000" stroke-width="2.8"/>
<line x1="902.58" y1="1341.7" x2="902.58" y2="1406.8" stroke="#000" stroke-width="2.8"/>
<rect x="893.13" y="1206.5" width="18.3" height="134.8" fill="#888888" stroke="#000" stroke-width="2.8"/>
<line x1="894.53" y1="1269.6" x2="910.03" y2="1269.6" stroke="#990000" stroke-width="5.6"/>
<polyline points="209.7,1263.8 239.82,1250.3 269.95,1239 300.07,1232.4 330.2,1226 360.32,1218 390.45,1213.6 420.57,1201.4 450.7,1183 480.82,1158 510.95,1131 541.08,1119.6 571.2,1110 601.33,1114.4 631.45,1124 661.58,1149 691.7,1185.8 721.83,1226.4 751.95,1258 782.08,1280 812.2,1288.6 842.33,1283.6 872.45,1280.6 902.58,1272.4" fill="none" stroke="#ff5500" stroke-width="5.6" stroke-linejoin="round"/>
<rect x="186.6" y="796.4" width="753.9" height="709.1" fill="none" stroke="#000" stroke-width="4.2"/>
<text x="306.8" y="832.2" font-size="28.1">∂</text><path d="M37 1065L215 1065L502 389L795 1065L973 1065L594 184L594 -422L403 -422L403 184Z" transform="translate(320.69 832) scale(0.01372 -0.01372)"/><text x="342.54" y="832.2" font-size="28.1">/</text><text x="358.16" y="832.2" font-size="28.1">∂t</text><text x="387.66" y="832.2" font-size="28.1">&lt;</text><text transform="translate(411.87 832.2) scale(1 1.05)" font-size="28.1">0</text><text x="471.22" y="832.2" font-size="28.1">increase</text><text x="585.23" y="832.2" font-size="28.1">particle</text><text x="683.63" y="832.2" font-size="28.1">mean</text><text x="761.72" y="832.2" font-size="28.1">size</text>
<line x1="436.2" y1="824.4" x2="460.8" y2="824.4" stroke="#000" stroke-width="2.1"/><polyline points="454.2,819.2 460.8,824.4 454.2,829.6" fill="none" stroke="#000" stroke-width="2.1"/>
<g font-weight="bold"><text x="231.3" y="869.9" font-size="34">(</text><text transform="translate(242.62 869.9) scale(1 1.045)" font-size="34">B</text><text x="267.17" y="869.9" font-size="34">)</text></g>
<rect x="764" y="899.2" width="132.5" height="51.6" fill="none" stroke="#000" stroke-width="2.6"/>
<text transform="translate(770.4 936.9) scale(1 1.04)" font-size="34">N</text><text x="804.4" y="936.9" font-size="34">=</text><path d="M763 0L583 0L583 1147Q518 1085 413 1023Q308 961 223 930L223 1104Q374 1175 487 1276Q600 1377 647 1472L763 1472Z" transform="translate(833.7 937) scale(0.01660 -0.01660)"/><text transform="translate(852.61 936.9) scale(1 1.05)" font-size="34">67</text>
<text x="303.8" y="1479.9" font-size="28.1">∂</text><path d="M37 1065L215 1065L502 389L795 1065L973 1065L594 184L594 -422L403 -422L403 184Z" transform="translate(317.69 1480) scale(0.01372 -0.01372)"/><text x="339.54" y="1479.9" font-size="28.1">/</text><text x="355.16" y="1479.9" font-size="28.1">∂t</text><text x="384.66" y="1479.9" font-size="28.1">&gt;</text><text transform="translate(408.87 1479.9) scale(1 1.05)" font-size="28.1">0</text><text x="468.22" y="1479.9" font-size="28.1">decrease</text><text x="591.62" y="1479.9" font-size="28.1">particle</text><text x="690.01" y="1479.9" font-size="28.1">mean</text><text x="768.11" y="1479.9" font-size="28.1">size</text>
<line x1="433.1" y1="1472" x2="458" y2="1472" stroke="#000" stroke-width="2.1"/><polyline points="451.4,1466.8 458,1472 451.4,1477.2" fill="none" stroke="#000" stroke-width="2.1"/>
<text transform="translate(443.3 1619.5) scale(1 1.04)" font-size="34">M</text><text x="471.62" y="1619.5" font-size="34">ean</text><text x="537.8" y="1619.5" font-size="34">solar</text><text x="620.94" y="1619.5" font-size="34">time</text>
<g transform="rotate(-90)">
<text x="-1295.7" y="38.6" font-size="34">∂</text><path d="M37 1065L215 1065L502 389L795 1065L973 1065L594 184L594 -422L403 -422L403 184Z" transform="translate(-1278.9 39) scale(0.01660 -0.01660)"/><text x="-1252.45" y="38.6" font-size="34">/</text><text x="-1233.56" y="38.6" font-size="34">∂t</text><text x="-1197.87" y="38.6" font-size="34">(x</text><path d="M763 0L583 0L583 1147Q518 1085 413 1023Q308 961 223 930L223 1104Q374 1175 487 1276Q600 1377 647 1472L763 1472Z" transform="translate(-1160.1 39) scale(0.01660 -0.01660)"/><text transform="translate(-1141.19 38.6) scale(1 1.05)" font-size="34">0</text>
<text x="-1123.8" y="16.2" font-size="22">-</text><text transform="translate(-1116.47 16.2) scale(1 1.05)" font-size="22">3</text>
<text x="-1093.4" y="38.6" font-size="34">min</text>
<text x="-1038.9" y="16.2" font-size="22">-</text><path d="M763 0L583 0L583 1147Q518 1085 413 1023Q308 961 223 930L223 1104Q374 1175 487 1276Q600 1377 647 1472L763 1472Z" transform="translate(-1031.57 16) scale(0.01074 -0.01074)"/>
<text x="-1016.1" y="38.6" font-size="34">)</text>
</g>
</svg>
</body></html>
